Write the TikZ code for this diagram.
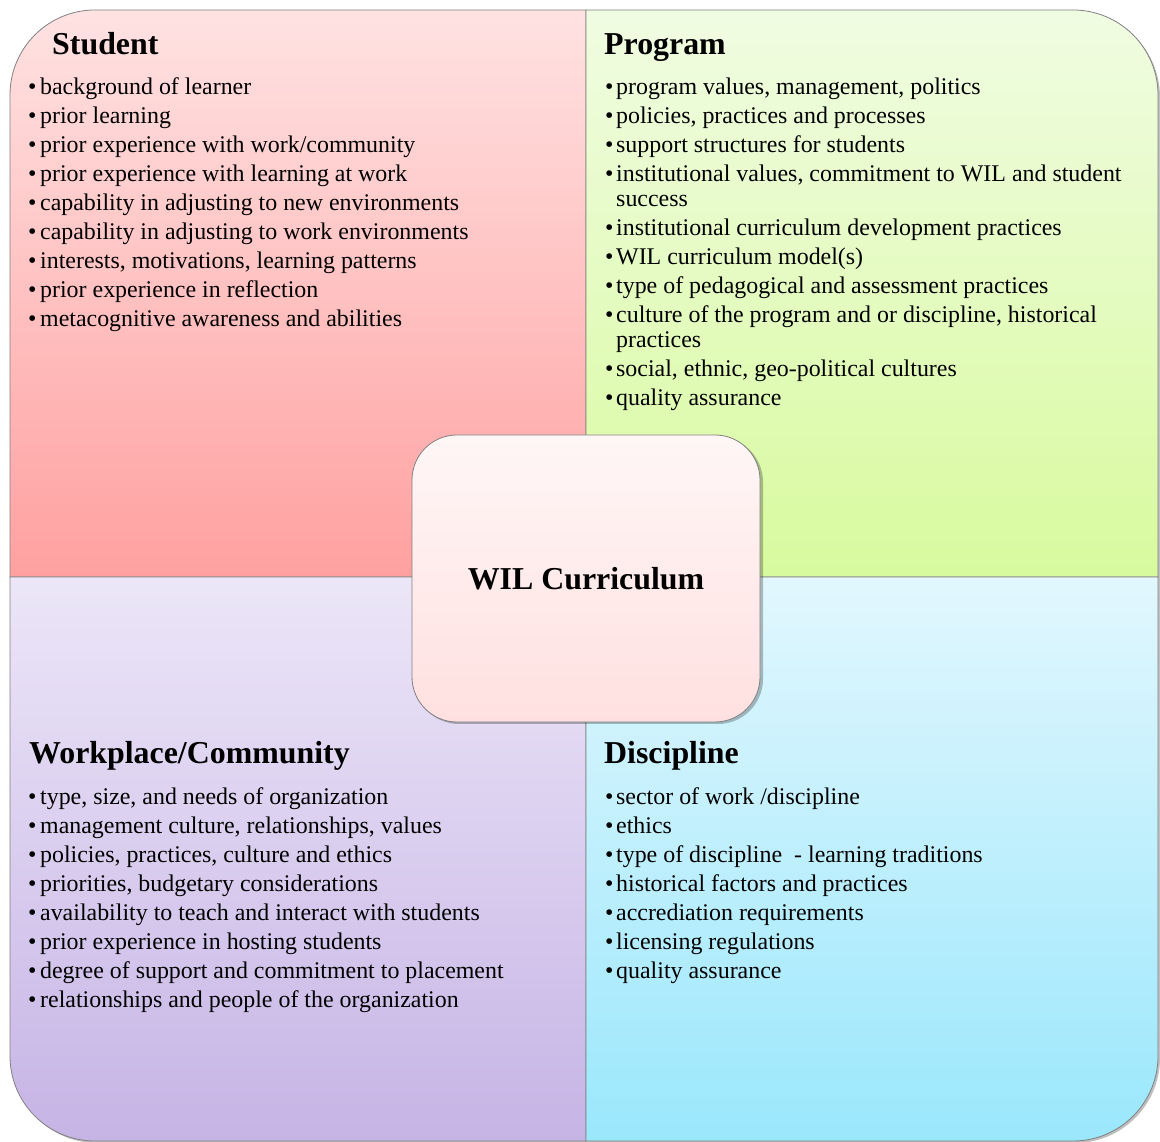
\documentclass[tikz,border=0pt]{standalone}
\usepackage{fontspec}
\setmainfont{Liberation Serif}
\newcommand\blA{\makebox[12bp][l]{\textbullet}}
\newcommand\blB{\makebox[11bp][l]{\textbullet}}
\definecolor{tlTop}{RGB}{255,226,226}
\definecolor{tlBot}{RGB}{255,160,160}
\definecolor{trTop}{RGB}{240,252,226}
\definecolor{trBot}{RGB}{216,250,158}
\definecolor{blTop}{RGB}{236,230,248}
\definecolor{blBot}{RGB}{198,180,229}
\definecolor{brTop}{RGB}{226,247,254}
\definecolor{brBot}{RGB}{154,231,252}
\definecolor{cTop}{RGB}{255,246,246}
\definecolor{cBot}{RGB}{255,224,224}
\definecolor{edge}{RGB}{128,128,128}
\begin{document}
\begin{tikzpicture}[x=1bp,y=1bp,
  quad/.style={draw=edge, line width=0.8bp},
  hd/.style={anchor=base west, inner sep=0, font=\fontsize{32}{38}\selectfont\bfseries},
  li/.style={anchor=base west, inner sep=0, font=\fontsize{24}{29}\selectfont},
  shad/.style={fill=black, opacity=0.25}]
\useasboundingbox (0,0) rectangle (1160,1142);
% outer shadow
\path[shad] (12,84) -- (12,1045) arc[start angle=180,end angle=90,radius=85] -- (1075,1130) arc[start angle=90,end angle=0,radius=85] -- (1160,84) arc[start angle=0,end angle=-90,radius=85] -- (97,-1) arc[start angle=270,end angle=180,radius=85] -- cycle;
% quadrants
\path[quad, top color=tlTop, bottom color=tlBot] (586,565) -- (10,565) -- (10,1047) arc[start angle=180,end angle=90,radius=85] -- (586,1132) -- cycle;
\path[quad, top color=trTop, bottom color=trBot] (586,565) -- (586,1132) -- (1073,1132) arc[start angle=90,end angle=0,radius=85] -- (1158,565) -- cycle;
\path[quad, top color=blTop, bottom color=blBot] (586,565) -- (10,565) -- (10,86) arc[start angle=180,end angle=270,radius=85] -- (586,1) -- cycle;
\path[quad, top color=brTop, bottom color=brBot] (586,565) -- (1158,565) -- (1158,86) arc[start angle=0,end angle=-90,radius=85] -- (586,1) -- cycle;
% centre
\path[shad, rounded corners=45bp] (414,418) rectangle (763,705);
\node[draw=edge, line width=0.8bp, rounded corners=45bp, minimum width=348bp, minimum height=287bp, top color=cTop, bottom color=cBot, inner sep=0, font=\fontsize{32}{38}\selectfont\bfseries] (c) at (586,563.5) {WIL Curriculum};
% Student
\node[hd] (sh) at (52,1087) {Student};
\node[li] (s1) at (28,1047.5) {\blA background of learner};
\node[li] (s2) at (28,1018.5) {\blA prior learning};
\node[li] (s3) at (28,989.5) {\blA prior experience with work/community};
\node[li] (s4) at (28,960.5) {\blA prior experience with learning at work};
\node[li] (s5) at (28,931.5) {\blA capability in adjusting to new environments};
\node[li] (s6) at (28,902.5) {\blA capability in adjusting to work environments};
\node[li] (s7) at (28,873.5) {\blA interests, motivations, learning patterns};
\node[li] (s8) at (28,844.5) {\blA prior experience in reflection};
\node[li] (s9) at (28,815.5) {\blA metacognitive awareness and abilities};
% Program
\node[hd] (ph) at (604,1087) {Program};
\node[li] (p1) at (605,1047.5) {\blB program values, management, politics};
\node[li] (p2) at (605,1018.5) {\blB policies, practices and processes};
\node[li] (p3) at (605,989.5) {\blB support structures for students};
\node[li] (p4) at (605,960.5) {\blB institutional values, commitment to WIL and student};
\node[li] (p4b) at (616,935.5) {success};
\node[li] (p5) at (605,906.5) {\blB institutional curriculum development practices};
\node[li] (p6) at (605,877.5) {\blB WIL curriculum model(s)};
\node[li] (p7) at (605,848.5) {\blB type of pedagogical and assessment practices};
\node[li] (p8) at (605,819.5) {\blB culture of the program and or discipline, historical};
\node[li] (p8b) at (616,794.5) {practices};
\node[li] (p9) at (605,765.5) {\blB social, ethnic, geo-political cultures};
\node[li] (p10) at (605,736.5) {\blB quality assurance};
% Workplace
\node[hd] (wh) at (29,378) {Workplace/Community};
\node[li] (w1) at (28,337) {\blA type, size, and needs of organization};
\node[li] (w2) at (28,308) {\blA management culture, relationships, values};
\node[li] (w3) at (28,279) {\blA policies, practices, culture and ethics};
\node[li] (w4) at (28,250) {\blA priorities, budgetary considerations};
\node[li] (w5) at (28,221) {\blA availability to teach and interact with students};
\node[li] (w6) at (28,192) {\blA prior experience in hosting students};
\node[li] (w7) at (28,163) {\blA degree of support and commitment to placement};
\node[li] (w8) at (28,134) {\blA relationships and people of the organization};
% Discipline
\node[hd] (dh) at (604,378) {Discipline};
\node[li] (d1) at (605,337) {\blB sector of work /discipline};
\node[li] (d2) at (605,308) {\blB ethics};
\node[li] (d3) at (605,279) {\blB type of discipline~ - learning traditions};
\node[li] (d4) at (605,250) {\blB historical factors and practices};
\node[li] (d5) at (605,221) {\blB accrediation requirements};
\node[li] (d6) at (605,192) {\blB licensing regulations};
\node[li] (d7) at (605,163) {\blB quality assurance};
\end{tikzpicture}
\end{document}
